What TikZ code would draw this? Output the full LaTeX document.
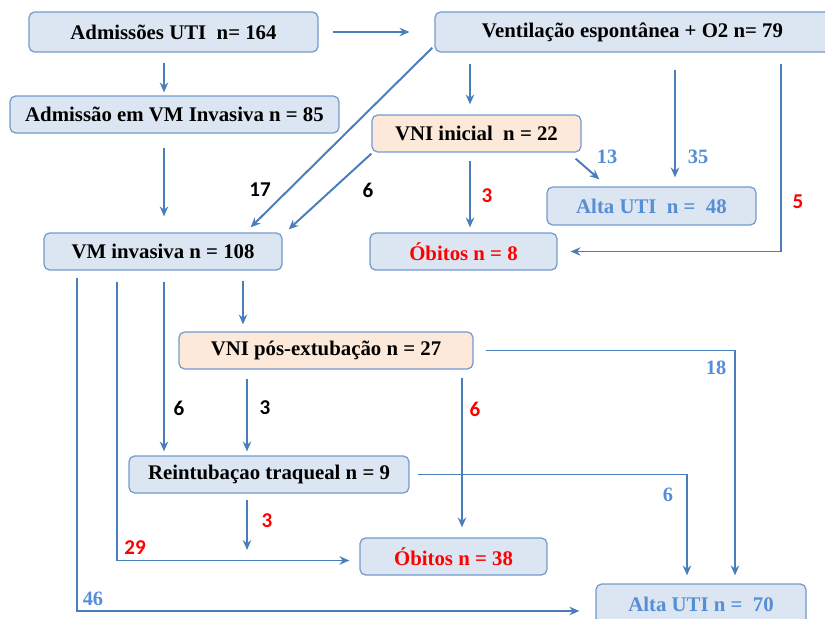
\documentclass[tikz,border=0pt]{standalone}
\usepackage{fontspec}
\setmainfont{Liberation Serif}
\newfontfamily\calib{Carlito}
\usetikzlibrary{calc,arrows.meta}
\definecolor{corcaixa}{RGB}{220,230,242}
\definecolor{borda}{RGB}{115,155,208}
\definecolor{pessego}{RGB}{252,233,217}
\definecolor{azulseta}{RGB}{74,126,187}
\definecolor{azultxt}{RGB}{85,142,213}
\newdimen\pxd \pxd=0.025cm
\tikzset{
  caixa/.style={draw=borda, fill=corcaixa, rounded corners=4pt, line width=0.9pt,
    minimum height=37\pxd, inner sep=0pt, font=\fontsize{14.8}{16}\selectfont\bfseries},
  seta/.style={draw=azulseta, line width=1.4pt, -{Stealth[length=7pt,width=6pt]}},
  rotulo/.style={font=\calib\fontsize{15}{16}\selectfont\bfseries},
  nrotulo/.style={font=\fontsize{14.5}{16}\selectfont\bfseries, text=azultxt}
}
\begin{document}
\begin{tikzpicture}[x=0.025cm, y=-0.025cm]
\useasboundingbox (0,0) rectangle (825,619);
% caixas
\node[caixa, minimum width=289\pxd, minimum height=40\pxd] (adm) at (173.5,32) {Admissões UTI~~n= 164};
\node[caixa, minimum width=395\pxd, minimum height=40\pxd] (vent) at (632.5,32) {Ventilação espontânea + O2 n= 79};
\node[caixa, minimum width=329\pxd] (admvm) at (174.5,114.5) {Admissão em VM Invasiva n = 85};
\node[caixa, fill=pessego, minimum width=209\pxd] (vniini) at (476.5,133.5) {VNI inicial~~n = 22};
\node[caixa, text=azultxt, minimum width=209\pxd, minimum height=38\pxd] (alta48) at (651.5,206) {Alta UTI~~n =~~48};
\node[caixa, minimum width=238\pxd] (vm) at (163,251.5) {VM invasiva n = 108};
\node[caixa, text=red, minimum width=187\pxd] (ob8) at (463.5,251.5) {Óbitos n = 8};
\node[caixa, fill=pessego, minimum width=294\pxd] (vnipos) at (326,350.5) {VNI pós-extubação n = 27};
\node[caixa, minimum width=280\pxd] (reint) at (269,474.5) {Reintubaçao traqueal n = 9};
\node[caixa, text=red, minimum width=187\pxd] (ob38) at (453.5,556.5) {Óbitos n = 38};
\node[caixa, text=azultxt, minimum width=210\pxd, minimum height=40\pxd] (alta70) at (701,604) {Alta UTI n = ~70};
% colunas das setas
\foreach \c in {77,117,164,243,247,462,470,675,687,735,781}
  \coordinate (x\c) at (\c,0);
\coordinate (e3) at (247,550);
% setas
\draw[seta, shorten <=14\pxd, shorten >=25\pxd] (adm) -- (vent);
\draw[seta, shorten <=10\pxd, shorten >=3\pxd] (adm.south -| x164) -- (admvm.north -| x164);
\draw[seta, shorten <=14\pxd, shorten >=16\pxd] (admvm.south -| x164) -- (vm.north -| x164);
\draw[seta] ($(vent.south west)+(-2,-5)$) -- ($(vm.north east)+(-32,-5)$);
\draw[seta] ($(vniini.south west)+(0,1)$) -- ($(vm.north east)+(6,-3)$);
\draw[seta, shorten <=11\pxd, shorten >=10\pxd] (vent.south -| x470) -- (vniini.north -| x470);
\draw[seta, shorten <=8\pxd, shorten >=5\pxd] (vniini.south -| x470) -- (ob8.north -| x470);
\draw[seta] ($(vniini.south east)+(-6,6)$) -- ($(alta48.north west)+(53,-7)$);
\draw[seta, shorten <=17\pxd, shorten >=9\pxd] (vent.south -| x675) -- (alta48.north -| x675);
\draw[seta, shorten <=11\pxd, shorten >=13\pxd] (vent.south -| x781) |- (ob8.east);
\draw[seta, shorten <=7\pxd, shorten >=16\pxd] (vm.south -| x77) |- ($(alta70.west)+(0,7)$);
\draw[seta, shorten <=11\pxd, shorten >=10\pxd] (vm.south -| x117) |- ($(ob38.west)+(0,4)$);
\draw[seta, shorten <=11\pxd, shorten >=4\pxd] (vm.south -| x164) -- (reint.north -| x164);
\draw[seta, shorten <=10\pxd, shorten >=7\pxd] (vm.south -| x243) -- (vnipos.north -| x243);
\draw[seta, shorten <=9\pxd, shorten >=4\pxd] (vnipos.south -| x247) -- (reint.north -| x247);
\draw[seta, shorten <=8\pxd, shorten >=10\pxd] (vnipos.south -| x462) -- (ob38.north -| x462);
\draw[seta, shorten <=12\pxd, shorten >=8\pxd] (vnipos.east) -| (alta70.north -| x735);
\draw[seta, shorten <=8\pxd, shorten >=8\pxd] (reint.east) -| (alta70.north -| x687);
\draw[seta, shorten <=6\pxd] (reint.south -| x247) -- (e3);
% numeros
\node[rotulo] (n17) at (260,190) {17};
\node[rotulo] (n6a) at (368,190) {6};
\node[rotulo, text=red] (n3a) at (487,196) {3};
\node[nrotulo] (n13) at (607,157) {13};
\node[nrotulo] (n35) at (698,157) {35};
\node[rotulo, text=red] (n5) at (798,202) {5};
\node[rotulo] (n6b) at (179,408) {6};
\node[rotulo] (n3b) at (265,408) {3};
\node[rotulo, text=red] (n6c) at (475,409) {6};
\node[nrotulo] (n18) at (716,368) {18};
\node[nrotulo] (n6d) at (668,495) {6};
\node[rotulo, text=red] (n3c) at (267,521) {3};
\node[rotulo, text=red] (n29) at (135,548) {29};
\node[nrotulo] (n46) at (93,599) {46};
\end{tikzpicture}
\end{document}
